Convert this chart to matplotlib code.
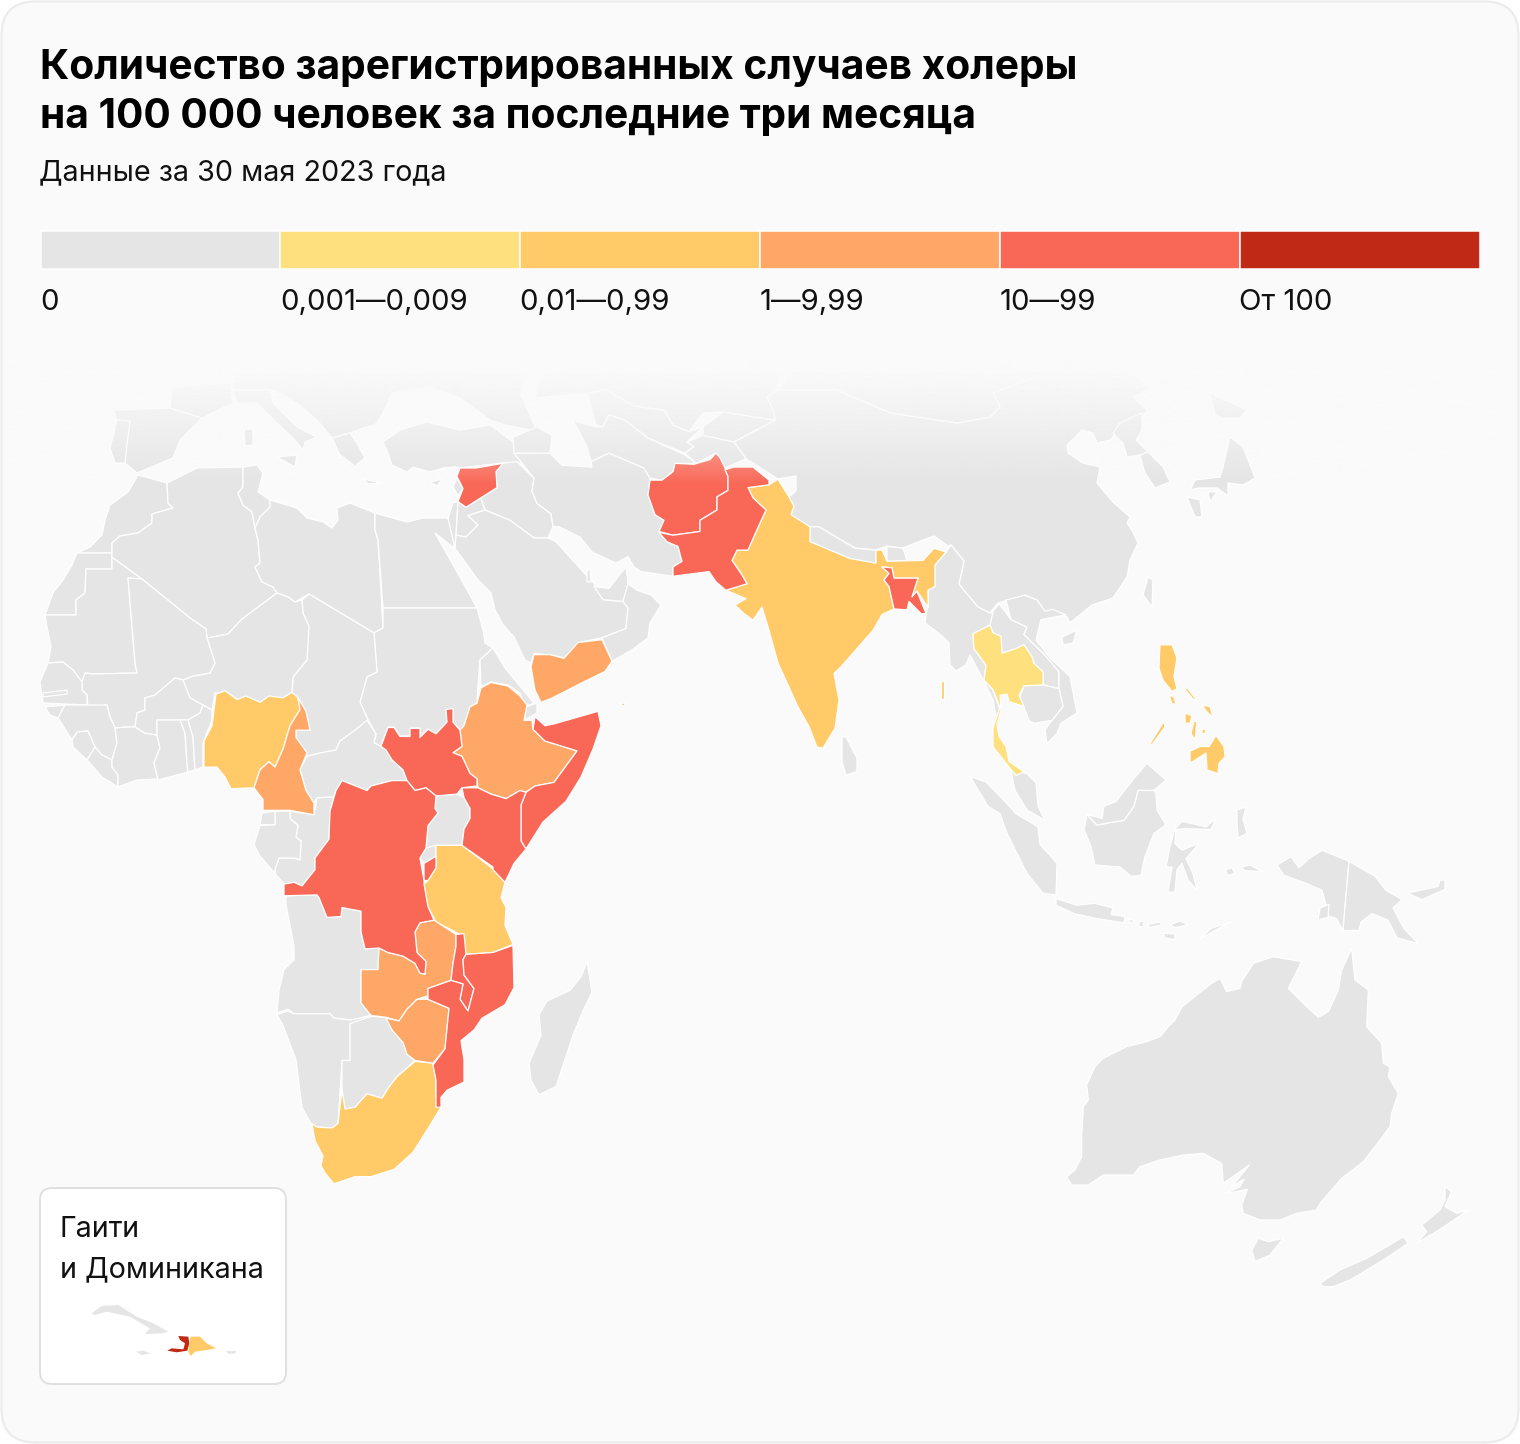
import numpy as np
import matplotlib
matplotlib.use('Agg')
import matplotlib.pyplot as plt
from matplotlib.patches import Polygon, FancyBboxPatch

title_lines = ['Количество зарегистрированных случаев холеры',
               'на 100 000 человек за последние три месяца']
subtitle = 'Данные за 30 мая 2023 года'
legend_labels = ['0', '0,001—0,009', '0,01—0,99', '1—9,99', '10—99', 'От 100']
legend_colors = ['#E5E5E5', '#FFE07F', '#FFCA67', '#FFA766', '#F96857', '#BF2916']
inset_lines = ['Гаити', 'и Доминикана']

# категория страны (индекс в legend_colors), всё остальное серое
levels = {
    'syria': 4, 'yemen': 3, 'socotra': 3, 'ethiopia': 3, 'somalia': 4, 'kenya': 4, 'ssudan': 4,
    'drc': 4, 'burundi': 4, 'tanzania': 2, 'zambia': 3, 'zimbabwe': 3, 'malawi': 4,
    'mozambique': 4, 'safrica': 2, 'nigeria': 2, 'cameroon': 3, 'afghanistan': 4, 'pakistan': 4,
    'india': 2, 'bangladesh': 4, 'thailand': 1, 'andaman': 2, 'luzon': 2, 'mindoro': 2,
    'samar': 2, 'panay': 2, 'negros': 2, 'bicol': 2, 'palawan': 2, 'mindanao': 2, 'bohol': 2,
    'haiti': 5, 'dominicana': 2,
}

# контуры читались с кропов, у кропов своя шкала по y
africa_south = {
    'ssudan': [(381,756),(388,735),(394,735),(400,745),(410,745),(410,736),(420,736),(420,746),(428,737),(436,742),(447,729),(446,715),(453,714),(453,729),(460,738),(462,756),(453,763),(462,767),(470,786),(477,792),(477,800),(462,802),(457,809),(436,811),(426,802),(415,805),(407,794),(403,782),(392,771),(386,760)],
    'ethiopia': [(481,691),(491,685),(508,689),(520,700),(527,710),(524,727),(532,727),(533,737),(545,750),(577,761),(554,796),(535,800),(526,807),(520,805),(506,814),(491,809),(478,802),(477,792),(470,786),(462,767),(453,763),(462,756),(460,738),(464,733),(470,712),(477,708)],
    'somalia': [(535,723),(545,733),(554,731),(573,725),(598,717),(601,733),(593,759),(581,790),(566,817),(543,840),(526,870),(521,861),(521,821),(526,807),(535,800),(554,796),(577,761),(545,750),(533,737)],
    'kenya': [(462,802),(478,802),(491,809),(506,814),(520,805),(526,807),(521,821),(521,861),(526,870),(514,886),(505,907),(493,893),(493,890),(462,866),(464,848),(470,836),(470,825),(464,813)],
    'uganda': [(436,811),(457,809),(464,813),(470,825),(470,836),(464,848),(462,866),(436,866),(426,869),(428,844),(438,830),(435,825)],
    'rwanda': [(426,869),(436,866),(436,878),(424,886),(420,880)],
    'burundi': [(424,886),(436,878),(436,891),(428,905),(424,905)],
    'tanzania': [(436,866),(462,866),(493,892),(505,907),(501,924),(506,935),(505,955),(513,976),(493,985),(466,987),(462,966),(436,951),(428,934),(424,909),(428,905),(436,891),(436,878)],
    'drc': [(342,794),(367,805),(371,800),(392,794),(407,794),(415,805),(426,802),(436,811),(435,825),(438,830),(428,844),(426,869),(420,880),(424,905),(424,909),(428,934),(434,949),(420,952),(415,962),(417,985),(426,995),(425,1009),(420,1008),(415,997),(403,989),(388,985),(379,980),(365,981),(361,962),(361,939),(351,937),(342,935),(341,945),(327,946),(319,924),(317,921),(284,922),(284,909),(294,907),(302,911),(315,893),(315,880),(329,859),(330,828),(336,805)],
    'congo': [(314,832),(317,813),(334,812),(330,828),(329,859),(315,880),(315,893),(302,911),(294,907),(284,909),(275,897),(275,893),(279,880),(294,880),(300,882),(301,861),(296,857),(298,844),(290,836),(290,828)],
    'gabon': [(275,828),(290,828),(290,836),(298,844),(296,857),(301,861),(300,882),(294,880),(279,880),(275,893),(275,897),(260,878),(254,865),(260,844),(275,843)],
    'eqguinea': [(262,830),(275,828),(275,843),(260,843)],
    'cameroon': [(298,702),(306,717),(310,738),(296,738),(296,746),(307,763),(300,782),(306,805),(314,819),(314,832),(290,827),(263,827),(263,815),(254,802),(260,782),(269,773),(275,779),(283,759),(290,733),(300,715)],
    'nigeria': [(204,779),(204,750),(212,733),(216,698),(225,694),(237,704),(246,700),(260,707),(269,700),(283,702),(292,696),(298,702),(300,715),(290,733),(283,759),(275,779),(269,773),(260,782),(254,802),(231,803),(225,790),(217,779)],
    'car': [(307,767),(321,763),(336,760),(340,750),(355,738),(367,727),(376,742),(374,752),(381,756),(386,760),(392,771),(403,782),(407,794),(392,794),(371,800),(367,805),(342,794),(336,805),(334,812),(317,813),(314,819),(306,805),(300,782)],
    'angola': [(286,922),(317,921),(319,924),(327,946),(341,945),(342,935),(351,937),(361,939),(361,962),(365,981),(379,980),(378,1004),(361,1004),(361,1041),(371,1055),(351,1060),(334,1058),(330,1053),(294,1053),(288,1048),(277,1052),(279,1027),(284,1004),(294,993),(294,978),(290,955),(286,932)],
    'namibia': [(277,1054),(288,1050),(294,1053),(330,1053),(334,1058),(351,1060),(371,1055),(386,1057),(350,1064),(350,1105),(342,1105),(338,1175),(332,1180),(317,1179),(311,1175),(302,1157),(296,1104),(283,1066)],
    'botswana': [(350,1064),(371,1056),(386,1057),(392,1071),(403,1085),(407,1098),(415,1105),(397,1123),(388,1136),(382,1147),(367,1142),(355,1157),(345,1159),(342,1138),(342,1105),(350,1105)],
    'zambia': [(379,980),(388,985),(403,989),(415,997),(420,1008),(425,1009),(426,995),(417,985),(415,962),(420,952),(434,949),(456,965),(456,978),(453,997),(451,1016),(428,1025),(428,1033),(417,1037),(407,1048),(399,1061),(386,1057),(371,1055),(361,1041),(361,1004),(378,1004)],
    'malawi': [(456,965),(464,964),(466,987),(463,993),(464,1010),(474,1025),(468,1050),(460,1037),(463,1020),(451,1016),(453,997),(456,978)],
    'mozambique': [(466,987),(493,985),(513,977),(514,1024),(505,1043),(482,1058),(474,1071),(461,1083),(464,1104),(464,1129),(447,1138),(441,1146),(441,1157),(436,1157),(436,1127),(433,1110),(445,1092),(449,1047),(428,1037),(428,1025),(451,1016),(463,1020),(460,1037),(468,1050),(474,1025),(464,1010),(463,993)],
    'zimbabwe': [(386,1058),(399,1061),(407,1048),(417,1037),(428,1037),(449,1047),(445,1092),(433,1108),(415,1105),(407,1098),(403,1085),(392,1071)],
    'safrica': [(342,1138),(345,1159),(355,1157),(367,1142),(382,1147),(388,1136),(397,1123),(415,1106),(433,1108),(436,1127),(436,1146),(441,1157),(430,1177),(413,1207),(394,1226),(371,1234),(355,1234),(334,1242),(325,1230),(321,1222),(323,1211),(315,1194),(312,1175),(317,1179),(332,1180),(338,1175)],
    'lesotho': [(392,1188),(403,1177),(413,1186),(399,1200)],
    'swaziland': [(426,1154),(431,1146),(436,1150),(435,1161),(428,1162)],
    'madagascar': [(587,995),(592,1029),(583,1050),(573,1077),(556,1134),(539,1143),(531,1127),(529,1108),(541,1077),(539,1054),(547,1039),(570,1027),(581,1012)],
}

south_asia = {
    'syria': [(457,484),(460,475),(476,475),(503,470),(496,479),(497,496),(466,517),(458,511),(463,497)],
    'lebanon': [(453,495),(457,486),(463,497),(458,505)],
    'israel': [(448,529),(453,512),(458,511),(456,547),(455,561)],
    'jordan': [(458,511),(466,517),(481,507),(485,520),(468,526),(478,536),(466,549),(456,547)],
    'iraq': [(497,496),(496,479),(503,470),(517,468),(534,486),(532,500),(537,513),(551,524),(553,538),(548,550),(534,550),(510,531),(485,520),(481,507)],
    'iran': [(514,459),(550,459),(562,472),(592,474),(591,468),(609,459),(644,475),(650,486),(648,504),(655,525),(664,531),(659,543),(667,554),(678,559),(682,575),(673,581),(673,591),(641,586),(634,581),(628,570),(616,577),(592,565),(580,549),(559,538),(553,538),(551,524),(537,513),(532,500),(534,486)],
    'saudi': [(468,526),(485,520),(510,531),(534,550),(548,550),(556,554),(594,599),(603,616),(623,618),(628,625),(626,647),(602,657),(578,662),(567,679),(550,675),(534,674),(531,684),(525,681),(514,656),(503,643),(495,627),(491,609),(478,595),(455,561),(456,547),(466,549),(478,536)],
    'qatar': [(587,585),(590,583),(591,597),(587,597)],
    'uae': [(594,602),(609,604),(619,590),(626,581),(628,599),(623,618),(603,616)],
    'oman': [(628,625),(623,618),(628,599),(637,606),(651,611),(661,622),(650,641),(648,657),(632,670),(612,682),(602,657),(626,647)],
    'yemen': [(534,675),(550,675),(564,679),(578,662),(602,659),(612,682),(605,693),(584,704),(551,722),(541,726),(535,713),(531,688)],
    'socotra': [(620,727),(626,727),(623,730)],
    'afghanistan': [(650,488),(662,488),(673,479),(675,470),(694,471),(710,466),(716,459),(720,464),(725,475),(728,484),(728,499),(717,506),(717,520),(700,531),(700,543),(673,547),(659,543),(664,531),(655,525),(648,504)],
    'pakistan': [(659,544),(673,547),(700,543),(700,531),(717,520),(717,506),(728,499),(728,484),(725,477),(734,474),(753,474),(769,488),(769,493),(748,496),(753,507),(766,520),(757,541),(748,563),(737,563),(732,574),(741,588),(747,599),(726,606),(716,597),(709,586),(673,591),(673,581),(682,575),(678,559),(667,554)],
    'india': [(748,496),(769,493),(778,487),(789,506),(794,516),(791,525),(810,538),(810,554),(850,572),(876,577),(876,563),(882,563),(887,575),(923,574),(934,561),(946,565),(935,579),(935,602),(928,606),(928,624),(917,607),(912,613),(918,593),(894,593),(892,582),(882,581),(889,588),(884,595),(889,602),(894,626),(882,632),(873,649),(859,666),(841,688),(834,695),(839,724),(835,754),(823,775),(817,774),(809,752),(798,731),(778,684),(769,649),(762,624),(753,638),(744,631),(735,622),(746,615),(726,606),(747,599),(741,588),(732,574),(737,563),(748,563),(757,541),(766,520),(753,507)],
    'bangladesh': [(882,581),(892,582),(894,593),(918,593),(912,613),(917,607),(926,631),(921,631),(909,618),(907,627),(894,626),(889,602),(884,595),(889,588)],
    'nepal': [(810,538),(819,538),(841,552),(855,561),(876,563),(876,577),(850,572),(810,554)],
    'bhutan': [(887,559),(903,561),(907,574),(887,575)],
    'sinhala': [(842,763),(846,763),(857,786),(857,800),(846,804),(842,790)],
    'kazakhstan': [(587,395),(605,391),(635,409),(664,413),(673,429),(689,436),(703,416),(723,415),(775,424),(773,413),(767,399),(778,391),(780,362),(545,362),(535,400)],
    'uzbekistan': [(587,395),(596,429),(603,431),(609,418),(625,424),(648,443),(685,459),(694,452),(687,447),(703,431),(689,436),(673,429),(664,413),(635,409),(605,391)],
    'turkmenistan': [(573,424),(596,431),(603,431),(609,418),(625,424),(648,443),(685,461),(696,470),(675,470),(673,479),(662,488),(650,486),(644,475),(609,459),(591,468),(587,452),(580,438)],
    'tajikistan': [(685,459),(694,452),(687,447),(703,440),(734,447),(746,465),(725,475),(716,459),(696,470)],
    'kyrgyzstan': [(703,431),(723,415),(775,424),(753,436),(734,447),(703,440)],
    'caucasus': [(514,459),(550,459),(552,440),(537,431),(513,442)],
    'andaman': [(941,703),(944,703),(944,722),(941,722)],
}

sea_asia = {
    'thailand': [(990,627),(993,635),(1001,639),(1002,657),(1016,652),(1024,648),(1032,661),(1034,668),(1043,677),(1043,691),(1024,692),(1019,702),(1024,714),(1009,709),(1007,701),(1000,702),(1001,718),(997,734),(999,746),(1006,757),(1009,773),(1024,784),(1016,788),(1006,775),(993,757),(993,737),(1000,715),(993,696),(984,686),(986,670),(974,652),(973,636)],
    'laos': [(993,612),(999,604),(1011,621),(1027,629),(1024,637),(1045,659),(1059,677),(1059,695),(1043,691),(1043,677),(1034,668),(1032,661),(1024,648),(1016,652),(1002,657),(1001,639),(993,635),(990,627)],
    'vietnam': [(1006,600),(1025,595),(1037,600),(1045,612),(1053,610),(1066,616),(1041,621),(1036,643),(1050,662),(1070,682),(1077,721),(1061,732),(1057,743),(1047,754),(1045,739),(1052,729),(1063,714),(1059,695),(1059,677),(1045,659),(1024,637),(1027,629),(1011,621)],
    'cambodia': [(1024,692),(1043,691),(1059,695),(1063,714),(1052,729),(1034,732),(1029,729),(1020,704)],
    'malaya': [(1011,782),(1027,786),(1036,796),(1038,821),(1045,836),(1027,825),(1015,804)],
    'sumatra': [(970,789),(986,795),(1007,818),(1016,829),(1038,843),(1040,862),(1057,882),(1056,916),(1043,914),(1027,893),(1007,850),(1000,829),(988,821)],
    'kalimantan': [(1087,830),(1097,841),(1124,836),(1134,821),(1138,804),(1154,804),(1156,807),(1157,825),(1166,841),(1154,850),(1145,875),(1141,895),(1131,896),(1120,886),(1095,884),(1091,864),(1084,846)],
    'sabah': [(1087,830),(1102,834),(1104,821),(1116,816),(1134,791),(1147,775),(1166,793),(1154,804),(1138,804),(1134,821),(1124,836),(1097,841)],
    'sulawesi': [(1216,834),(1211,846),(1184,845),(1176,846),(1175,861),(1182,868),(1199,861),(1186,877),(1193,893),(1197,911),(1188,900),(1182,882),(1177,889),(1175,913),(1168,913),(1172,886),(1166,886),(1170,864),(1175,845),(1182,837),(1206,843)],
    'java': [(1056,920),(1077,927),(1095,925),(1113,930),(1111,937),(1125,939),(1124,946),(1095,941),(1074,936),(1056,927)],
    'bali': [(1127,942),(1134,943),(1132,947)],
    'lombok': [(1139,945),(1144,944),(1143,950),(1139,950)],
    'sumbawa': [(1147,948),(1160,945),(1162,948),(1150,951)],
    'flores': [(1170,948),(1180,944),(1188,948),(1175,951)],
    'timor': [(1199,964),(1211,952),(1231,945),(1213,955)],
    'sumba': [(1163,957),(1175,958),(1175,964),(1165,962)],
    'seram': [(1241,886),(1250,884),(1263,891),(1245,890)],
    'buru': [(1225,889),(1232,887),(1235,893),(1228,895)],
    'halmahera': [(1237,825),(1246,822),(1243,835),(1247,850),(1238,855),(1237,838)],
    'papua': [(1322,868),(1349,880),(1343,954),(1336,941),(1329,939),(1322,911),(1307,904),(1284,895),(1277,884),(1291,875),(1299,887),(1309,877)],
    'png': [(1349,880),(1375,896),(1386,911),(1402,921),(1393,930),(1404,952),(1418,968),(1397,962),(1388,943),(1372,936),(1361,945),(1359,954),(1343,954)],
    'newbritain': [(1407,914),(1438,907),(1440,900),(1445,900),(1445,910),(1422,921)],
    'aru': [(1320,930),(1329,926),(1328,940),(1318,943)],
    'luzon': [(1160,648),(1172,648),(1177,662),(1174,682),(1177,695),(1172,698),(1163,686),(1159,673)],
    'mindoro': [(1169,702),(1174,704),(1176,712),(1172,711)],
    'samar': [(1202,713),(1210,714),(1213,726),(1207,720)],
    'panay': [(1185,721),(1192,724),(1190,732),(1185,732)],
    'negros': [(1194,730),(1197,730),(1195,750),(1191,743)],
    'bicol': [(1184,694),(1188,695),(1198,709),(1192,705)],
    'palawan': [(1164,730),(1165,736),(1152,755),(1150,754)],
    'bohol': [(1202,738),(1206,739),(1205,743),(1202,743)],
    'mindanao': [(1216,745),(1224,757),(1225,768),(1219,775),(1218,786),(1207,782),(1206,764),(1190,775),(1190,762),(1200,757),(1209,757)],
}

# уже в пикселях картинки
north_africa = {
    'spain': [(113,410),(170,408),(202,418),(180,440),(173,458),(137,473),(125,463),(115,463),(110,448),(117,420)],
    'portugal': [(117,420),(130,421),(127,445),(125,463),(115,463),(110,448)],
    'france': [(170,408),(172,387),(230,383),(233,403),(202,418)],
    'italy': [(233,390),(270,390),(273,403),(297,427),(317,437),(305,442),(303,450),(295,440),(277,423),(257,403),(237,403)],
    'sicily': [(277,457),(297,455),(295,467)],
    'sardinia': [(244,429),(253,429),(253,445),(245,446)],
    'europe': [(233,362),(530,362),(521,395),(537,431),(505,425),(490,420),(460,398),(430,387),(392,393),(383,413),(375,425),(363,428),(350,433),(332,438),(317,420),(297,403),(273,390),(233,390)],
    'greece': [(332,438),(350,433),(358,445),(365,458),(355,466),(340,455)],
    'turkey': [(383,442),(400,430),(427,422),(460,430),(490,425),(513,442),(523,463),(502,463),(460,468),(455,467),(443,468),(430,472),(413,467),(407,472),(392,465),(388,453)],
    'cyprus': [(430,482),(442,479),(437,486)],
    'crete': [(363,479),(382,483),(368,484)],
    'morocco': [(138,475),(167,483),(168,503),(173,508),(152,514),(152,523),(138,533),(120,536),(112,543),(112,553),(77,553),(90,547),(102,535),(105,520),(110,505),(128,492)],
    'wsahara': [(77,553),(112,553),(112,569),(86,569),(85,593),(76,600),(76,615),(45,615),(53,593),(63,580),(72,565)],
    'mauritania': [(112,557),(142,579),(128,578),(135,663),(137,673),(93,674),(85,673),(82,682),(73,670),(63,662),(48,663),(51,647),(47,627),(45,615),(76,615),(76,600),(85,593),(86,569),(112,569)],
    'algeria': [(167,483),(197,468),(243,467),(243,487),(238,493),(243,505),(252,512),(255,528),(258,540),(260,563),(255,567),(262,582),(273,587),(277,593),(242,619),(228,634),(207,638),(206,629),(190,618),(142,579),(112,557),(112,543),(120,536),(138,533),(152,523),(152,514),(173,508),(168,503)],
    'tunisia': [(243,467),(257,465),(263,473),(258,492),(270,500),(270,507),(260,517),(255,528),(252,512),(243,505),(238,493),(243,487)],
    'libya': [(270,500),(297,508),(307,518),(323,522),(332,528),(338,520),(337,508),(350,503),(375,513),(375,530),(378,540),(383,628),(374,633),(309,594),(295,602),(288,597),(277,593),(273,587),(262,582),(255,567),(260,563),(258,540),(255,528),(260,517),(270,507)],
    'egypt': [(375,513),(407,522),(423,518),(448,518),(455,535),(454,548),(435,533),(443,547),(460,577),(477,608),(383,608),(378,540),(375,530)],
    'sudan': [(383,608),(477,608),(483,630),(485,643),(493,648),(480,660),(478,685),(477,703),(470,707),(464,726),(460,730),(453,722),(453,709),(446,710),(447,722),(436,734),(428,729),(420,737),(420,728),(410,728),(410,736),(400,736),(394,727),(388,727),(381,746),(374,743),(376,734),(368,720),(360,702),(367,677),(377,672),(374,633),(383,628)],
    'eritrea': [(493,648),(505,668),(515,680),(534,703),(525,707),(520,693),(508,685),(491,682),(481,687),(480,660)],
    'djibouti': [(525,707),(537,703),(537,713),(525,720)],
    'chad': [(302,600),(309,594),(374,633),(377,672),(367,677),(360,702),(368,720),(355,731),(340,741),(336,750),(321,753),(307,756),(296,738),(296,730),(310,730),(306,712),(298,698),(292,693),(293,677),(307,660),(308,627),(303,613)],
    'niger': [(207,638),(228,634),(242,619),(277,593),(288,597),(295,602),(302,600),(303,613),(309,626),(307,660),(293,677),(292,692),(283,698),(260,702),(247,697),(238,700),(227,692),(215,693),(212,710),(203,705),(190,698),(183,680),(193,676),(210,673),(215,663)],
    'mali': [(142,579),(190,618),(206,629),(207,638),(215,663),(210,673),(193,676),(183,680),(175,678),(155,695),(145,698),(145,710),(137,713),(135,727),(127,727),(115,728),(110,717),(107,705),(88,708),(87,695),(82,690),(82,682),(85,673),(93,674),(137,673),(135,663),(128,578)],
    'senegal': [(48,663),(63,662),(73,670),(82,682),(82,690),(87,695),(87,705),(43,703),(40,682)],
    'gambia': [(43,693),(67,690),(67,694),(43,697)],
    'gbissau': [(45,707),(65,705),(58,718),(50,715)],
    'guinea': [(65,705),(87,705),(107,705),(110,717),(115,728),(117,743),(112,760),(102,755),(95,747),(88,731),(77,732),(72,740),(58,718)],
    'sierra': [(72,740),(77,732),(88,731),(95,747),(87,760),(73,747)],
    'liberia': [(87,760),(95,747),(102,755),(112,760),(112,767),(118,775),(118,787),(102,777)],
    'ivory': [(118,787),(118,775),(112,767),(112,760),(117,743),(115,728),(127,727),(135,727),(145,733),(157,735),(160,748),(154,763),(158,779),(137,780)],
    'burkina': [(135,727),(137,713),(145,710),(145,698),(155,695),(175,678),(183,680),(190,698),(203,705),(200,713),(188,720),(180,720),(157,720),(157,735),(145,733)],
    'ghana': [(157,720),(180,720),(185,733),(187,763),(188,772),(158,780),(154,763),(160,748),(157,735)],
    'togo': [(180,720),(188,720),(193,737),(195,770),(188,772),(187,763),(185,733)],
    'benin': [(188,720),(200,713),(203,705),(212,710),(212,720),(203,743),(203,767),(195,770),(193,737)],
}

east_asia = {
    'china': [(753,463),(778,479),(796,476),(796,491),(789,497),(794,506),(791,515),(810,527),(819,527),(841,540),(855,548),(876,550),(887,546),(903,548),(923,540),(934,536),(948,546),(951,545),(964,561),(959,584),(962,588),(978,607),(990,613),(998,603),(1025,595),(1037,600),(1045,612),(1053,610),(1067,617),(1070,623),(1092,605),(1113,598),(1127,577),(1130,560),(1138,543),(1133,532),(1127,523),(1130,517),(1113,502),(1097,483),(1100,467),(1083,463),(1068,453),(1067,445),(1082,430),(1093,433),(1097,443),(1110,440),(1122,425),(1142,418),(1147,410),(1133,397),(1147,390),(1143,380),(1100,362),(1040,375),(993,393),(1000,407),(990,417),(957,423),(891,413),(837,390),(778,390),(767,397),(773,410),(775,420),(753,432),(734,442),(746,459)],
    'mongolia': [(778,390),(837,390),(891,413),(957,423),(990,417),(1000,407),(993,393),(1040,375),(1100,362),(800,362)],
    'myanmar': [(951,545),(964,561),(959,584),(962,588),(978,607),(990,613),(997,613),(993,622),(990,625),(973,634),(974,649),(986,665),(984,680),(993,690),(1000,710),(996,717),(993,700),(986,685),(970,655),(966,665),(956,671),(950,665),(949,643),(941,635),(925,623),(926,614),(928,607),(928,590),(935,586),(935,565),(946,552)],
    'honshu': [(1223,467),(1230,437),(1243,447),(1252,470),(1255,478),(1243,485),(1228,483),(1228,496),(1217,488),(1198,488),(1190,490),(1195,480),(1220,477)],
    'hokkaido': [(1210,393),(1247,410),(1240,418),(1223,418),(1215,415)],
    'kyushu': [(1187,497),(1200,500),(1202,517),(1195,517)],
    'shikoku': [(1208,492),(1217,492),(1210,502)],
    'nkorea': [(1113,433),(1120,423),(1142,413),(1142,430),(1136,440),(1148,452),(1140,455),(1127,457),(1123,443)],
    'skorea': [(1140,455),(1148,452),(1163,467),(1170,482),(1155,488),(1145,473)],
    'taiwan': [(1148,577),(1153,580),(1152,607),(1143,595)],
    'hainan': [(1062,637),(1077,630),(1073,643),(1063,645)],
}

# кроп австралии, 3x от точки (1040, 930)
oceania_crop = {
    'australia': [(935,55),(945,150),(985,180),(980,290),(1025,340),(1030,400),(1050,410),(1045,440),(1075,490),(1055,550),(1050,590),(1005,650),(970,695),(905,745),(840,820),(830,840),(770,850),(720,870),(660,870),(610,850),(605,825),(622,778),(553,792),(600,770),(612,748),(575,770),(628,705),(600,725),(550,760),(545,700),(490,670),(430,675),(360,690),(300,710),(280,735),(190,735),(145,765),(95,765),(80,740),(105,720),(125,680),(125,620),(130,530),(145,510),(140,465),(165,410),(190,385),(260,350),(320,335),(360,320),(385,290),(405,270),(425,232),(470,195),(515,160),(540,145),(560,185),(600,175),(605,155),(640,100),(700,80),(785,95),(745,175),(795,225),(835,262),(865,245),(895,180),(905,120)],
    'tasmania': [(655,925),(685,935),(730,925),(690,975),(645,995),(635,960)],
    'nz_south': [(840,1060),(900,1020),(980,985),(1040,950),(1090,920),(1105,940),(1030,990),(930,1050),(880,1070),(850,1070)],
    'nz_north': [(1215,770),(1235,785),(1215,830),(1250,850),(1285,840),(1205,895),(1130,940),(1160,905),(1145,885),(1200,840),(1215,810)],
}

# кроп врезки, 3x от точки (30, 1180)
caribbean_crop = {
    'cuba': [(185,400),(215,378),(265,375),(320,410),(370,430),(415,455),(395,460),(345,462),(360,445),(300,410),(230,395),(195,405)],
    'jamaica': [(318,515),(340,512),(362,520),(335,525)],
    'puerto': [(588,513),(620,513),(615,521),(595,521)],
    'haiti': [(445,468),(475,470),(478,490),(472,512),(440,517),(412,512),(425,505),(460,508),(465,490),(450,480)],
    'dominicana': [(482,470),(510,470),(530,490),(558,505),(530,510),(495,515),(482,528),(475,515),(478,490)],
}


def yfix(pts, y0, k):
    return [(x, y0 + (y - y0)*k) for x, y in pts]


def from_crop(pts, x0, y0):
    return [(x0 + x/3, y0 + y/3) for x, y in pts]


shapes = {}
for name, pts in north_africa.items():
    shapes[name] = pts
for name, pts in east_asia.items():
    shapes[name] = pts
for name, pts in africa_south.items():
    shapes[name] = yfix(pts, 660, 0.9)
for name, pts in south_asia.items():
    shapes[name] = yfix(pts, 370, 0.9333)
for name, pts in sea_asia.items():
    shapes[name] = yfix(pts, 600, 0.9333)
for name, pts in oceania_crop.items():
    shapes[name] = from_crop(pts, 1040, 930)

plt.rcParams['font.family'] = ['Inter', 'DejaVu Sans']

fig = plt.figure(figsize=(15.2, 14.44), dpi=100, facecolor='white')
ax = fig.add_axes([0, 0, 1, 1])
ax.set_xlim(0, 1520)
ax.set_ylim(1444, 0)
ax.axis('off')

ax.add_patch(FancyBboxPatch((1.5, 1.5), 1517, 1441, boxstyle='round,pad=0,rounding_size=34',
                            fc='#FAFAFA', ec='#ECECEC', lw=1.6, zorder=0))

# сначала серые, потом цветные, чтобы границы лежали ровно
order = sorted(shapes, key=lambda n: levels.get(n, 0))
for name in order:
    col = legend_colors[levels.get(name, 0)]
    ax.add_patch(Polygon(shapes[name], closed=True, fc=col, ec='white', lw=0.9,
                         joinstyle='round', zorder=2))

# верх карты растворяется в фоне
fade = np.ones((256, 1, 4))
fade[:, :, :3] = matplotlib.colors.to_rgb('#FAFAFA')
fade[:, 0, 3] = np.clip(np.linspace(1.12, -0.02, 256), 0, 1)
ax.imshow(fade, extent=(6, 1514, 486, 360), aspect='auto', zorder=3, interpolation='bilinear')
ax.set_xlim(0, 1520)
ax.set_ylim(1444, 0)

# легенда
seg = (1479.5 - 40.5)/len(legend_colors)
for i, (lab, col) in enumerate(zip(legend_labels, legend_colors)):
    ax.bar(40.5 + i*seg, 38, width=seg, bottom=231, align='edge', color=col, ec='white', lw=1.1, zorder=4)
    ax.text(40 + i*seg, 310, lab, fontsize=21.2, color='#111111', va='baseline', ha='left', zorder=6)

ax.text(40, 79, title_lines[0], fontsize=29.3, fontweight='bold', color='black', va='baseline', zorder=6)
ax.text(40, 128, title_lines[1], fontsize=29.3, fontweight='bold', color='black', va='baseline', zorder=6)
ax.text(39, 180, subtitle, fontsize=20.7, color='#111111', va='baseline', zorder=6)

# врезка
ax.add_patch(FancyBboxPatch((40, 1188), 246, 196, boxstyle='round,pad=0,rounding_size=12',
                            fc='white', ec='#E0E0E0', lw=1.4, zorder=6))
ax.text(60, 1237, inset_lines[0], fontsize=20.7, color='#111111', va='baseline', zorder=7)
ax.text(60, 1277, inset_lines[1], fontsize=20.7, color='#111111', va='baseline', zorder=7)
for name, pts in caribbean_crop.items():
    ax.add_patch(Polygon(from_crop(pts, 30, 1180), closed=True, fc=legend_colors[levels.get(name, 0)],
                         ec='none', zorder=7))

fig.savefig('out.png', dpi=100)
